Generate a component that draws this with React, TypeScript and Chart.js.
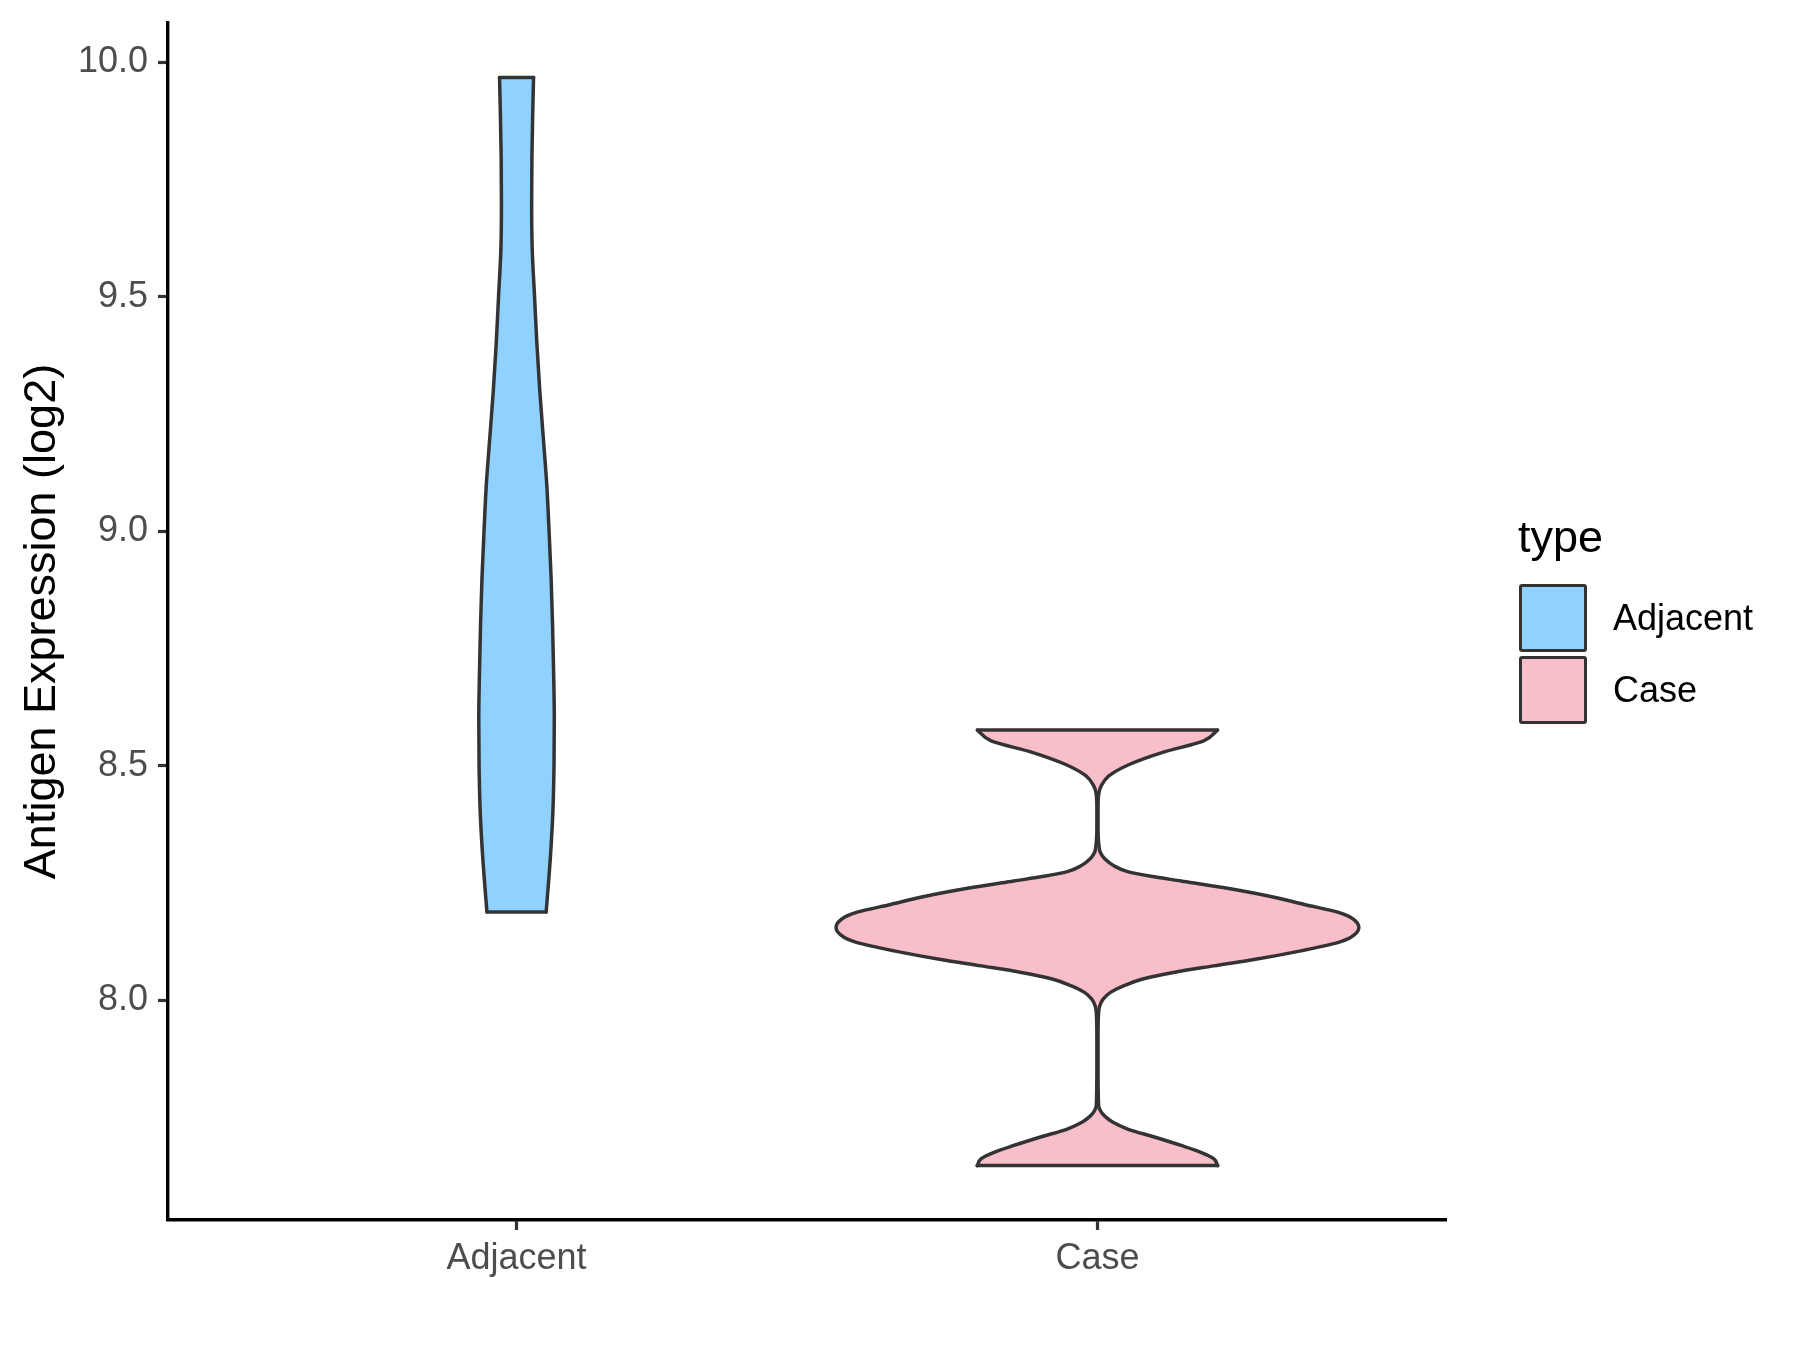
import React, { useEffect, useRef } from "react";
import { Chart, registerables } from "chart.js";

Chart.register(...registerables);

// ---- data ----
const categories = ["Adjacent", "Case"];
const categoryPositions = [1, 2];
const yTickValues = [8.0, 8.5, 9.0, 9.5, 10.0];
const yRange = [7.531, 10.084];
const xRange = [0.4, 2.6];

// violin outlines: expression value and half-width (in category units)
const adjacentY = [8.188, 8.25, 8.3, 8.4, 8.5, 8.6, 8.7, 8.8, 8.9, 9.0, 9.1, 9.2, 9.3, 9.4, 9.5, 9.6, 9.7, 9.8, 9.9, 9.968];
const adjacentHalfWidth = [0.051, 0.055, 0.058, 0.0625, 0.0645, 0.065, 0.0638, 0.062, 0.0595, 0.056, 0.052, 0.046, 0.04, 0.035, 0.031, 0.027, 0.026, 0.0265, 0.028, 0.0293];

const caseY = [
  7.647, 7.662, 7.676, 7.69, 7.708, 7.725, 7.74, 7.752, 7.761, 7.775, 7.85, 7.92, 7.974, 7.988, 8.002, 8.017, 8.031, 8.045,
  8.059, 8.073, 8.087, 8.105, 8.123, 8.131, 8.139, 8.147, 8.155, 8.163, 8.171, 8.179, 8.187, 8.204, 8.222, 8.24, 8.254,
  8.264, 8.274, 8.286, 8.301, 8.315, 8.329, 8.37, 8.41, 8.443, 8.457, 8.478, 8.503, 8.528, 8.553, 8.576,
];
const caseHalfWidth = [
  0.207, 0.2, 0.177, 0.144, 0.098, 0.052, 0.026, 0.013, 0.0065, 0.002, 0.001, 0.001, 0.002, 0.004, 0.0098, 0.023, 0.046, 0.078,
  0.131, 0.2, 0.272, 0.35, 0.415, 0.432, 0.442, 0.448, 0.45, 0.448, 0.442, 0.432, 0.415, 0.356, 0.294, 0.216, 0.144,
  0.092, 0.052, 0.029, 0.013, 0.005, 0.0026, 0.001, 0.001, 0.0026, 0.0065, 0.0196, 0.0556, 0.111, 0.183, 0.2067,
];

const fillColors = ["#91D1FF", "#F8BFCA"];
const outlineColor = "#333333";
const fontFamily = "'Liberation Sans', Arial, Helvetica, sans-serif";

function violinDatasets(pos: number, ys: number[], hw: number[], color: string) {
  const n = ys.length;
  const right = ys.map((y, i) => ({ x: pos + hw[i], y }));
  const left = ys.map((y, i) => ({ x: pos - hw[i], y }));
  const top = [
    { x: pos - hw[n - 1], y: ys[n - 1] },
    { x: pos + hw[n - 1], y: ys[n - 1] },
  ];
  const bottom = [
    { x: pos - hw[0], y: ys[0] },
    { x: pos + hw[0], y: ys[0] },
  ];
  const common = {
    borderColor: outlineColor,
    borderWidth: 3.5,
    pointRadius: 0,
    pointHoverRadius: 0,
    borderCapStyle: "round" as const,
    borderJoinStyle: "round" as const,
  };
  return [
    { ...common, data: right, fill: false, cubicInterpolationMode: "monotone" as const, order: 2 },
    { ...common, data: left, fill: "-1", backgroundColor: color, cubicInterpolationMode: "monotone" as const, order: 3 },
    { ...common, data: top, fill: false, tension: 0, order: 0 },
    { ...common, data: bottom, fill: false, tension: 0, order: 0 },
  ];
}

export default function App() {
  const canvasRef = useRef<HTMLCanvasElement | null>(null);

  useEffect(() => {
    if (!canvasRef.current) return;
    const datasets = [
      ...violinDatasets(categoryPositions[0], adjacentY, adjacentHalfWidth, fillColors[0]),
      ...violinDatasets(categoryPositions[1], caseY, caseHalfWidth, fillColors[1]),
    ];
    const chart = new Chart(canvasRef.current, {
      type: "line",
      data: { datasets: datasets as any },
      options: {
        animation: false,
        responsive: false,
        devicePixelRatio: 1,
        indexAxis: "y",
        layout: { padding: { top: 23, right: 354, bottom: 30, left: 0 } },
        plugins: {
          legend: { display: false },
          tooltip: { enabled: false },
          filler: { propagate: false },
        },
        scales: {
          x: {
            type: "linear",
            position: "bottom",
            min: xRange[0],
            max: xRange[1],
            afterBuildTicks: (scale: any) => {
              scale.ticks = categoryPositions.map((v) => ({ value: v }));
            },
            afterFit: (scale: any) => {
              scale.height = 100;
              scale.paddingLeft = 0;
              scale.paddingRight = 0;
            },
            ticks: {
              autoSkip: false,
              maxRotation: 0,
              padding: 7,
              color: "#4D4D4D",
              font: { family: fontFamily, size: 36 },
              callback: (v: any) => {
                const idx = categoryPositions.indexOf(Number(v));
                return idx >= 0 ? categories[idx] : "";
              },
            },
            grid: {
              display: true,
              drawOnChartArea: false,
              drawTicks: true,
              tickLength: 10,
              tickColor: "#333333",
              tickWidth: 3.2,
            },
            border: { display: true, color: "#000000", width: 3.4 },
          },
          y: {
            type: "linear",
            position: "left",
            min: yRange[0],
            max: yRange[1],
            afterBuildTicks: (scale: any) => {
              scale.ticks = yTickValues.map((v) => ({ value: v }));
            },
            afterFit: (scale: any) => {
              scale.width = 168;
              scale.paddingTop = 0;
              scale.paddingBottom = 0;
            },
            ticks: {
              autoSkip: false,
              padding: 10,
              color: "#4D4D4D",
              font: { family: fontFamily, size: 36 },
              callback: (v: any) => Number(v).toFixed(1),
            },
            grid: {
              display: true,
              drawOnChartArea: false,
              drawTicks: true,
              tickLength: 10,
              tickColor: "#333333",
              tickWidth: 3.2,
            },
            border: { display: true, color: "#000000", width: 3.4 },
            title: {
              display: true,
              text: "Antigen Expression (log2)",
              color: "#000000",
              font: { family: fontFamily, size: 45 },
              padding: { top: 16, bottom: 0 },
            },
          },
        },
      } as any,
    });
    return () => chart.destroy();
  }, []);

  const legendItems = categories.map((c, i) => ({ label: c, color: fillColors[i] }));

  return (
    <div style={{ position: "absolute", left: 0, top: 0, width: 1800, height: 1350, background: "#ffffff" }}>
      <canvas ref={canvasRef} width={1800} height={1350} style={{ display: "block", width: 1800, height: 1350 }} />
      <div
        style={{
          position: "absolute",
          left: 1518,
          top: 510,
          fontFamily,
          fontSize: 45,
          lineHeight: "54px",
          color: "#000000",
          whiteSpace: "nowrap",
        }}
      >
        type
      </div>
      {legendItems.map((item, i) => (
        <React.Fragment key={item.label}>
          <div
            style={{
              position: "absolute",
              left: 1519,
              top: 584 + i * 72,
              width: 68,
              height: 68,
              boxSizing: "border-box",
              border: "3.4px solid #333333",
              borderRadius: 3,
              background: item.color,
            }}
          />
          <div
            style={{
              position: "absolute",
              left: 1613,
              top: 584 + i * 72,
              height: 68,
              lineHeight: "68px",
              fontFamily,
              fontSize: 36,
              color: "#000000",
              whiteSpace: "nowrap",
            }}
          >
            {item.label}
          </div>
        </React.Fragment>
      ))}
    </div>
  );
}
